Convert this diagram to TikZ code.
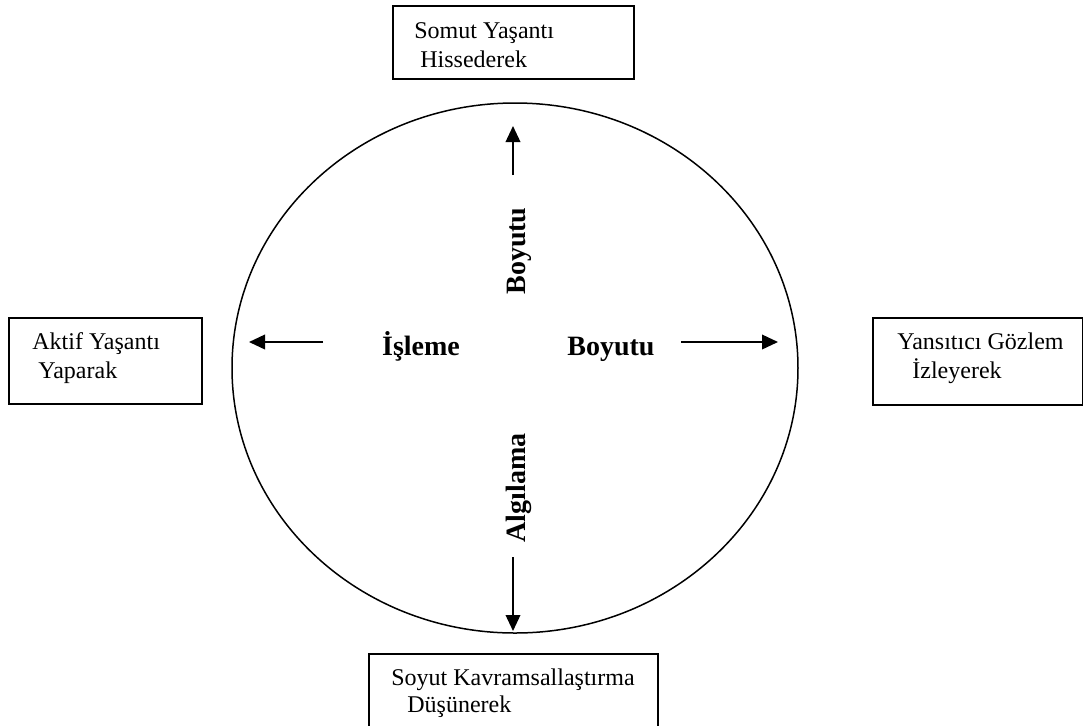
\documentclass[tikz,border=0pt]{standalone}
\usepackage{fontspec}
\setmainfont{Liberation Serif}
\usetikzlibrary{arrows.meta}
\begin{document}
\begin{tikzpicture}[x=0.5pt,y=-0.5pt,
  boxline/.style={draw=black,line width=0.85pt},
  lbl/.style={anchor=base west,inner sep=0pt,font=\fontsize{12}{14}\selectfont},
  big/.style={inner sep=0pt,font=\fontsize{14}{16}\selectfont\bfseries},
  arr/.style={line width=0.9pt,-{Triangle[length=8pt,width=7.3pt]}}]
\clip (0,0) rectangle (1084,725);
\fill[white] (0,0) rectangle (1084,725);
% boxes
\draw[boxline] (393,6) rectangle (634,79);
\draw[boxline] (9,318) rectangle (202,404);
\draw[boxline] (873,318) rectangle (1082.5,405);
\draw[boxline] (369,654) rectangle (658,760);
% box texts
\node[lbl] (t1) at (414,38) {Somut Yaşantı};
\node[lbl] (t2) at (420,67) {Hissederek};
\node[lbl] (l1) at (32,349) {Aktif Yaşantı};
\node[lbl] (l2) at (38,378) {Yaparak};
\node[lbl] (r1) at (897,349) {Yansıtıcı Gözlem};
\node[lbl] (r2) at (912,378) {İzleyerek};
\node[lbl] (b1) at (391,685) {Soyut Kavramsallaştırma};
\node[lbl] (b2) at (407,712) {Düşünerek};
% ellipse
\draw[line width=0.75pt] (515,368) ellipse [x radius=283, y radius=265];
% center labels
\node[big,anchor=base] (isl) at (421,355) {İşleme};
\node[big,anchor=base] (boy) at (611,355) {Boyutu};
\node[big,rotate=90] (boyv) at (519,251) {Boyutu};
\node[big,rotate=90] (alg) at (519,488) {Algılama};
% arrow endpoints
\coordinate (la) at (323,342);
\coordinate (lt) at (249,342);
\coordinate (ra) at (681,342);
\coordinate (rt) at (778,342);
\coordinate (ua) at (513,175);
\coordinate (ut) at (513,126);
\coordinate (da) at (513,557);
\coordinate (dt) at (513,631);
\draw[arr] (la) -- (lt);
\draw[arr] (ra) -- (rt);
\draw[arr] (ua) -- (ut);
\draw[arr] (da) -- (dt);
\end{tikzpicture}
\end{document}
